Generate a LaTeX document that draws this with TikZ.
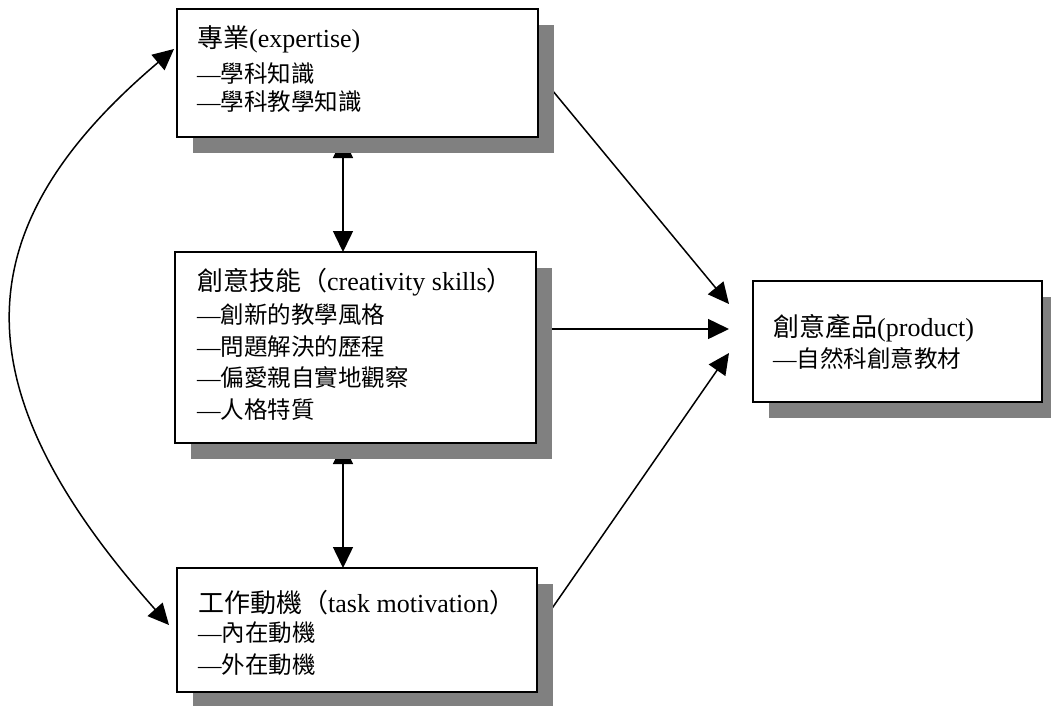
\documentclass[tikz,border=0pt]{standalone}
\usepackage{fontspec}
\setmainfont{Liberation Serif}
\newfontfamily\cjk{Noto Sans CJK TC}
\usetikzlibrary{arrows.meta,shadows}
\pgfdeclarelayer{bg}
\pgfsetlayers{bg,main}
\newcommand{\dsh}{{\rmfamily —}}
\begin{document}
\begin{tikzpicture}[x=1pt,y=-1pt,
 box/.style={draw=black, line width=1.5pt, fill=white, outer sep=0pt, inner sep=0pt, anchor=north west,
   drop shadow={shadow xshift=16pt, shadow yshift=-16pt, fill=gray, opacity=1}},
 ttl/.style={anchor=west, inner sep=0pt, font=\fontsize{26}{30}\selectfont},
 sub/.style={anchor=west, inner sep=0pt, font=\cjk\fontsize{23.5}{28}\selectfont},
 conn/.style={line width=1.5pt, -{Triangle[length=21pt,width=20pt]}},
 conn2/.style={line width=1.5pt, {Triangle[length=21pt,width=20pt]}-{Triangle[length=21pt,width=20pt]}}]
\useasboundingbox (0,0) rectangle (1051,705);

% boxes
\node[box, minimum width=361pt, minimum height=128pt] (top) at (177,9) {};
\node[box, minimum width=361pt, minimum height=191pt] (mid) at (175,252) {};
\node[box, minimum width=360pt, minimum height=124pt] (bot) at (177,568) {};
\node[box, minimum width=289pt, minimum height=121pt] (prod) at (753,281) {};

% texts
\node[ttl] (t1) at (197,39) {{\cjk 專業}(expertise)};
\node[sub] (t1a) at (197,74) {\dsh 學科知識};
\node[sub] (t1b) at (197,102) {\dsh 學科教學知識};

\node[ttl] (t2) at (197,282) {{\cjk 創意技能（}creativity skills{\cjk ）}};
\node[sub] (t2a) at (197,315) {\dsh 創新的教學風格};
\node[sub] (t2b) at (197,347) {\dsh 問題解決的歷程};
\node[sub] (t2c) at (197,378) {\dsh 偏愛親自實地觀察};
\node[sub] (t2d) at (197,410) {\dsh 人格特質};

\node[ttl] (t3) at (198,603) {{\cjk 工作動機（}task motivation{\cjk ）}};
\node[sub] (t3a) at (198,633) {\dsh 內在動機};
\node[sub] (t3b) at (198,665) {\dsh 外在動機};

\node[ttl] (t4) at (773,328) {{\cjk 創意產品}(product)};
\node[sub] (t4a) at (773,358) {\dsh 自然科創意教材};

% connectors
\begin{pgfonlayer}{bg}
\coordinate (p1) at ([xshift=-24pt,yshift=37.5pt]prod.west);
\coordinate (p2) at ([xshift=-24pt,yshift=12.5pt]prod.west);
\coordinate (p3) at ([xshift=-24pt,yshift=-11.5pt]prod.west);
\draw[conn2] ([xshift=166pt]top.south west) -- ([xshift=168pt]mid.north west);
\draw[conn2] ([xshift=168pt]mid.south west) -- ([xshift=166pt]bot.north west);
\draw[conn] (top.east) -- (p1);
\draw[conn] (mid.east |- p2) -- (p2);
\draw[conn] (bot.east) -- (p3);
\draw[conn2] ([xshift=-3pt,yshift=24pt]top.west) .. controls (-40,230) and (-40,390) .. ([xshift=-8pt,yshift=5pt]bot.west);
\end{pgfonlayer}
\end{tikzpicture}
\end{document}
